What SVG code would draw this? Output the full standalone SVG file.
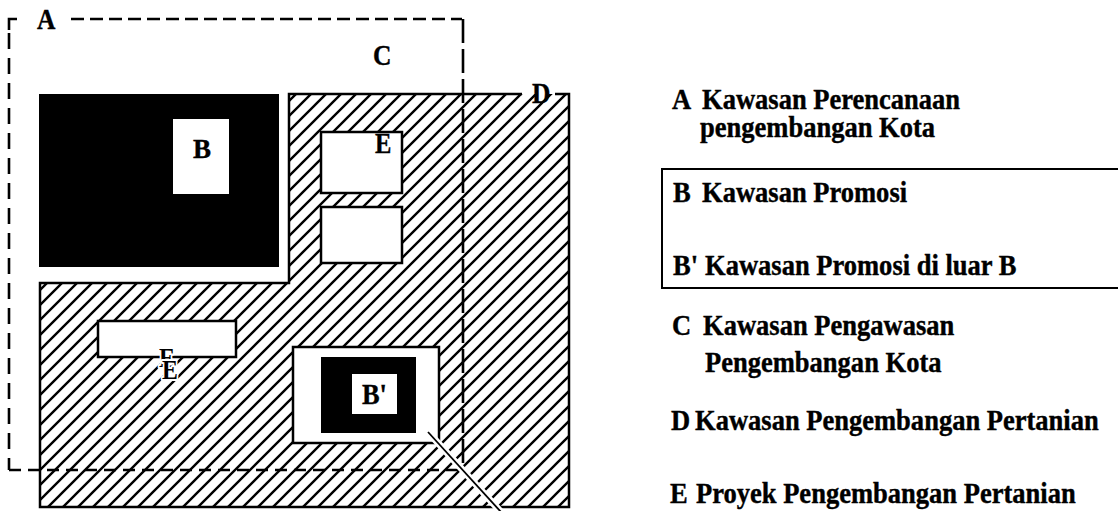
<svg xmlns="http://www.w3.org/2000/svg" width="1118" height="511" viewBox="0 0 1118 511">
<style>
text{font-family:"Liberation Serif","Times New Roman",serif;font-weight:bold;fill:#000;stroke:#000;stroke-width:0.4px}
.lbl{font-size:30px}
.leg{font-size:29px}
.halo{stroke:#fff;stroke-width:4px;paint-order:stroke;stroke-linejoin:round}
.box{fill:#fff;stroke:#000;stroke-width:2.5}
.edge{fill:none;stroke:#000;stroke-width:2.5}
.dash{fill:none;stroke:#000;stroke-width:2.6}
</style>
<defs>
<pattern id="hatch" patternUnits="userSpaceOnUse" width="15" height="15">
<path d="M-3,3 L3,-3 M0,15 L15,0 M12,18 L18,12" stroke="#000" stroke-width="2.4"/>
</pattern>
</defs>
<rect width="1118" height="511" fill="#fff"/>

<g id="region-D">
<polygon points="289,94 569,94 569,507 40,507 40,283 289,283" fill="url(#hatch)"/>
<path class="edge" d="M522,94 H289 V283 H40 V507 H569 V94 H555"/>
<text class="lbl" transform="translate(532,103) scale(0.85,1)">D</text>
</g>

<g id="region-B">
<rect x="39" y="94" width="240" height="173" fill="#000"/>
<rect x="173" y="119" width="56" height="75" fill="#fff"/>
<text style="font-size:27px" transform="translate(193,158)">B</text>
</g>

<g id="project-E1">
<rect class="box" x="321" y="132" width="81" height="61"/>
<text class="lbl" transform="translate(375,153) scale(0.82,1)">E</text>
</g>

<g id="project-E2">
<rect class="box" x="321" y="207" width="81" height="56"/>
</g>

<g id="project-E3">
<rect class="box" x="98" y="321" width="138" height="36"/>
<text class="lbl halo" style="font-size:28px" transform="translate(159,367) scale(0.85,1)">E</text>
<text class="lbl halo" style="font-size:28px" transform="translate(162,379) scale(0.85,1)">E</text>
</g>

<g id="region-Bprime">
<rect class="box" x="293" y="347" width="146" height="96"/>
<rect x="321" y="357" width="95" height="76" fill="#000"/>
<rect x="352" y="374" width="45" height="40" fill="#fff"/>
<text class="lbl" transform="translate(362,404) scale(0.88,1)">B'</text>
</g>

<g id="region-A">
<path class="dash" d="M9,30 V19 H17"/>
<line class="dash" x1="71" y1="19" x2="462" y2="19" stroke-dasharray="13 6"/>
<line class="dash" x1="9" y1="33" x2="9" y2="470" stroke-dasharray="16 9"/>
<line class="dash" x1="463" y1="19" x2="463" y2="470" stroke-dasharray="24 6"/>
<line class="dash" x1="9" y1="470" x2="462" y2="470" stroke-dasharray="12 7"/>
<text class="lbl" transform="translate(37,29) scale(0.85,1)">A</text>
<text class="lbl" transform="translate(373,65) scale(0.85,1)">C</text>
</g>

<g id="connectors">
<line x1="428" y1="432" x2="501" y2="512" stroke="#fff" stroke-width="7"/>
<line x1="428" y1="432" x2="501" y2="512" stroke="#000" stroke-width="1.8"/>
</g>

<g id="legend">
<path class="edge" style="stroke-width:2" d="M1118,169 H662 V288 H1118"/>
<text class="leg" transform="translate(672,109) scale(0.915,1)">A</text>
<text class="leg" transform="translate(702,109) scale(0.915,1)">Kawasan Perencanaan</text>
<text class="leg" transform="translate(700,137) scale(0.915,1)">pengembangan Kota</text>
<text class="leg" transform="translate(673,202) scale(0.915,1)">B</text>
<text class="leg" transform="translate(702,202) scale(0.915,1)">Kawasan Promosi</text>
<text class="leg" transform="translate(673,275) scale(0.915,1)">B'</text>
<text class="leg" transform="translate(705,275) scale(0.915,1)">Kawasan Promosi di luar B</text>
<text class="leg" transform="translate(672,335) scale(0.915,1)">C</text>
<text class="leg" transform="translate(703,335) scale(0.915,1)">Kawasan Pengawasan</text>
<text class="leg" transform="translate(705,372) scale(0.915,1)">Pengembangan Kota</text>
<text class="leg" transform="translate(671,430) scale(0.915,1)">D</text>
<text class="leg" transform="translate(695,430) scale(0.915,1)">Kawasan Pengembangan Pertanian</text>
<text class="leg" transform="translate(670,503) scale(0.915,1)">E</text>
<text class="leg" transform="translate(696,503) scale(0.915,1)">Proyek Pengembangan Pertanian</text>
</g>
</svg>
